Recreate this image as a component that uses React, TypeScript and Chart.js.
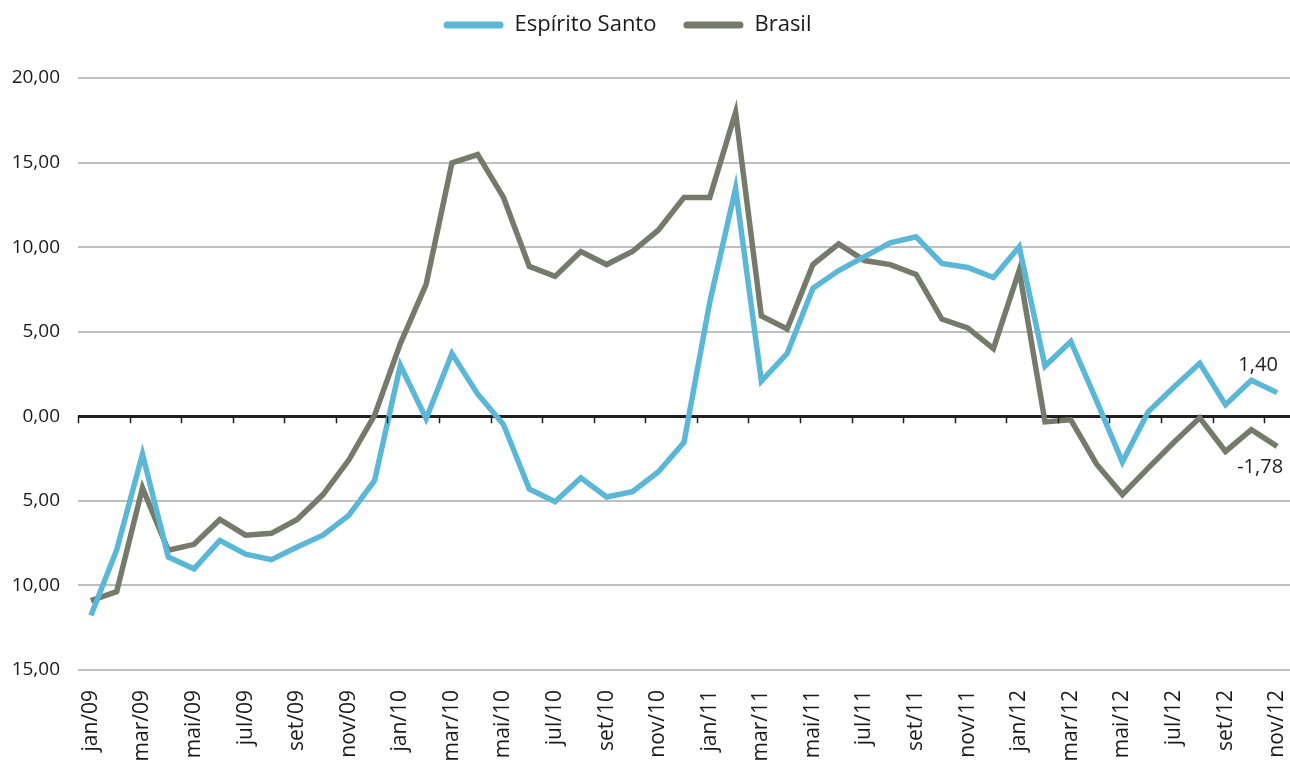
import React, { useEffect, useRef } from "react";
import { Chart, registerables } from "chart.js";

Chart.register(...registerables);

const monthNames = ["jan", "fev", "mar", "abr", "mai", "jun", "jul", "ago", "set", "out", "nov", "dez"];
const years = ["09", "10", "11", "12"];
const categories: string[] = [];
for (const y of years) for (const m of monthNames) categories.push(`${m}/${y}`);
const labels = categories.slice(0, 47);

const espiritoSanto = [
  -11.78, -7.9, -2.24, -8.32, -9.02, -7.34, -8.15, -8.48, -7.73, -7.03, -5.86, -3.8,
  3.01, -0.14, 3.71, 1.31, -0.49, -4.3, -5.05, -3.64, -4.77, -4.46, -3.29, -1.54,
  6.75, 13.48, 2.08, 3.71, 7.57, 8.62, 9.44, 10.26, 10.61, 9.04, 8.8, 8.2,
  10.02, 2.97, 4.42, 0.91, -2.71, 0.26, 1.73, 3.13, 0.68, 2.13, 1.4,
];

const brasil = [
  -10.9, -10.37, -4.23, -7.92, -7.57, -6.1, -7.03, -6.92, -6.1, -4.63, -2.59, 0.05,
  4.3, 7.8, 14.98, 15.47, 12.94, 8.86, 8.27, 9.74, 8.97, 9.74, 11.0, 12.94,
  12.94, 17.97, 5.93, 5.16, 8.97, 10.19, 9.21, 8.97, 8.39, 5.75, 5.23, 4.0,
  8.62, -0.33, -0.21, -2.83, -4.63, -3.06, -1.54, -0.09, -2.08, -0.79, -1.78,
];

const yMin = -15;
const yMax = 20;
const yStep = 5;

const BLUE = "#5bb7d8";
const GRAY = "#767a6a";
const FONT = "'Open Sans', sans-serif";

const fmt = (v: number) => Math.abs(v).toFixed(2).replace(".", ",");

const legendPlugin = {
  id: "customLegend",
  afterDraw(chart: any) {
    const ctx = chart.ctx;
    const ds = chart.data.datasets;
    ctx.save();
    ctx.font = `22px ${FONT}`;
    ctx.textBaseline = "middle";
    ctx.textAlign = "left";
    const sw = 60;
    const gapText = 11;
    const gapItem = 27;
    const widths = ds.map((d: any) => sw + gapText + ctx.measureText(d.label).width);
    const total = widths.reduce((a: number, b: number) => a + b, 0) + gapItem * (ds.length - 1);
    let x = 627.5 - total / 2;
    const y = 25;
    ds.forEach((d: any, i: number) => {
      ctx.strokeStyle = d.borderColor;
      ctx.lineWidth = 7;
      ctx.lineCap = "round";
      ctx.beginPath();
      ctx.moveTo(x + 3.5, y);
      ctx.lineTo(x + sw - 3.5, y);
      ctx.stroke();
      ctx.fillStyle = "#1a1a1a";
      ctx.fillText(d.label, x + sw + gapText, y);
      x += widths[i] + gapItem;
    });
    ctx.restore();
  },
};

const zeroTicksPlugin = {
  id: "zeroTicks",
  afterDatasetsDraw(chart: any) {
    const xs = chart.scales.x;
    const ys = chart.scales.y;
    const ctx = chart.ctx;
    const y0 = ys.getPixelForValue(0);
    const catW = xs.getPixelForValue(1) - xs.getPixelForValue(0);
    ctx.save();
    ctx.strokeStyle = "#231f20";
    ctx.lineWidth = 1.5;
    for (let i = 0; i <= labels.length; i += 2) {
      const x = Math.round(xs.getPixelForValue(i) - catW / 2) + 0.5;
      ctx.beginPath();
      ctx.moveTo(x, y0);
      ctx.lineTo(x, y0 + 7);
      ctx.stroke();
    }
    ctx.font = `20px ${FONT}`;
    ctx.fillStyle = "#222";
    ctx.textAlign = "center";
    ctx.textBaseline = "middle";
    const m0 = chart.getDatasetMeta(0).data;
    const m1 = chart.getDatasetMeta(1).data;
    const p0 = m0[m0.length - 1];
    const p1 = m1[m1.length - 1];
    ctx.fillText(fmt(espiritoSanto[espiritoSanto.length - 1]), p0.x - 19, p0.y - 27);
    ctx.fillText("-" + fmt(brasil[brasil.length - 1]), p1.x - 17, p1.y + 21);
    ctx.restore();
  },
};

export default function App() {
  const ref = useRef<HTMLCanvasElement | null>(null);
  useEffect(() => {
    if (!ref.current) return;
    const chart = new Chart(ref.current, {
      type: "line",
      data: {
        labels,
        datasets: [
          {
            label: "Espírito Santo",
            data: espiritoSanto,
            borderColor: BLUE,
            backgroundColor: BLUE,
            borderWidth: 5.5,
            pointRadius: 0,
            borderJoinStyle: "miter",
            tension: 0,
          },
          {
            label: "Brasil",
            data: brasil,
            borderColor: GRAY,
            backgroundColor: GRAY,
            borderWidth: 5.5,
            pointRadius: 0,
            borderJoinStyle: "miter",
            tension: 0,
          },
        ],
      },
      options: {
        animation: false,
        responsive: true,
        maintainAspectRatio: false,
        layout: { padding: { top: 0, left: 0, right: 0, bottom: 0 } },
        plugins: {
          legend: { display: false },
          tooltip: { enabled: false },
        },
        scales: {
          x: {
            offset: true,
            grid: { display: false, drawTicks: false },
            border: { display: false },
            ticks: {
              autoSkip: false,
              maxRotation: 90,
              minRotation: 90,
              padding: 20,
              color: "#1a1a1a",
              font: { family: FONT, size: 21 },
              callback: (_v: any, i: number) => (i % 2 === 0 ? labels[i] : ""),
            },
            afterFit: (s: any) => {
              s.height = 95;
              s.paddingLeft = 0;
              s.paddingRight = 0;
            },
          },
          y: {
            min: yMin,
            max: yMax,
            ticks: {
              stepSize: yStep,
              padding: 18,
              color: "#1a1a1a",
              font: { family: FONT, size: 19 },
              callback: (v: any) => fmt(Number(v)),
            },
            grid: {
              drawTicks: false,
              color: (c: any) => (c.tick && c.tick.value === 0 ? "#231f20" : "#bfbfbf"),
              lineWidth: (c: any) => (c.tick && c.tick.value === 0 ? 3 : 2),
            },
            border: { display: false },
            afterFit: (s: any) => {
              s.width = 78;
              s.paddingTop = 78;
            },
          },
        },
      },
      plugins: [zeroTicksPlugin, legendPlugin],
    });
    return () => chart.destroy();
  }, []);
  return (
    <div style={{ position: "absolute", left: 0, top: 0, width: 1290, height: 765, background: "#fff" }}>
      <canvas ref={ref} />
    </div>
  );
}
